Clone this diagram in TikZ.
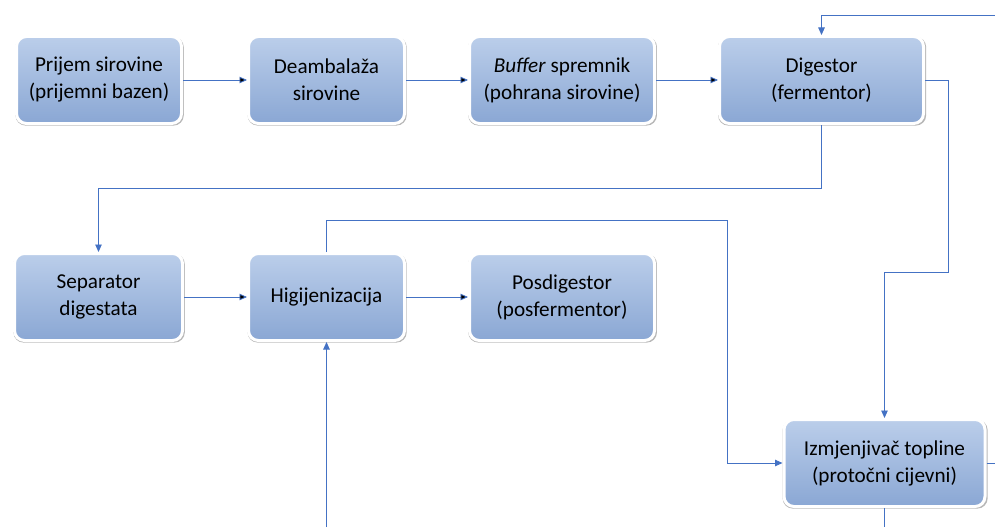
\documentclass[tikz,border=0pt]{standalone}
\usepackage{fontspec}
\setmainfont{Carlito}
\usetikzlibrary{arrows.meta,shadows}

\definecolor{boxtop}{RGB}{187,206,234}
\definecolor{boxbot}{RGB}{138,167,212}
\definecolor{linkblue}{RGB}{68,114,196}

\tikzset{
  procbox/.style={shape=rectangle,rounded corners=10pt,draw=white,line width=3pt,
    top color=boxtop,bottom color=boxbot,align=center,minimum height=87pt,
    font=\fontsize{21.2}{27}\selectfont,
    drop shadow={shadow xshift=0.6pt,shadow yshift=-1.2pt,shadow scale=1.02,opacity=0.4,fill=black!70}},
  link/.style={draw=linkblue,line width=0.9pt},
  arr/.style={link,-{Triangle[length=7.5pt,width=6.5pt]}}
}

\begin{document}
\begin{tikzpicture}[x=1pt,y=-1pt]
\useasboundingbox (0,0) rectangle (995,527);

\node[procbox,minimum width=165pt] (prijem) at (99,80) {Prijem sirovine\\(prijemni bazen)};
\node[procbox,minimum width=156pt] (deamb) at (326.5,80) {Deambalaža\\sirovine};
\node[procbox,minimum width=185pt] (buffer) at (562,80) {\textit{Buffer} spremnik\\(pohrana sirovine)};
\node[procbox,minimum width=204pt] (digestor) at (821.5,80) {Digestor\\(fermentor)};
\node[procbox,minimum width=168pt] (separator) at (98.5,297) {Separator\\digestata};
\node[procbox,minimum width=156pt] (higij) at (326.5,297) {Higijenizacija};
\node[procbox,minimum width=185pt] (posdig) at (562,297) {Posdigestor\\(posfermentor)};
\node[procbox,minimum width=201pt] (izmj) at (884.5,463) {Izmjenjivač topline\\(protočni cijevni)};

\coordinate (topin) at (995,15);
\coordinate (botin) at (326.5,527);
\coordinate (rout) at (995,463);
\coordinate (bout) at (884.5,527);
\coordinate (hx) at (727,220);

\path [arr] (prijem) edge (deamb);
\path [arr] (deamb) edge (buffer);
\path [arr] (buffer) edge (digestor);
\path [arr] (separator) edge (higij);
\path [arr] (higij) edge (posdig);
\draw [arr] (topin) -| (digestor);
\draw [arr] (digestor.south) -- ++(0,63) -| (separator);
\draw [arr] (digestor.east) -| ++(23,192) -| (izmj);
\draw [arr] (higij.north) |- (hx) |- (izmj.west);
\draw [arr] (botin) -- (higij);
\draw [link] (izmj) -- (rout);
\draw [link] (izmj) -- (bout);
\end{tikzpicture}
\end{document}
